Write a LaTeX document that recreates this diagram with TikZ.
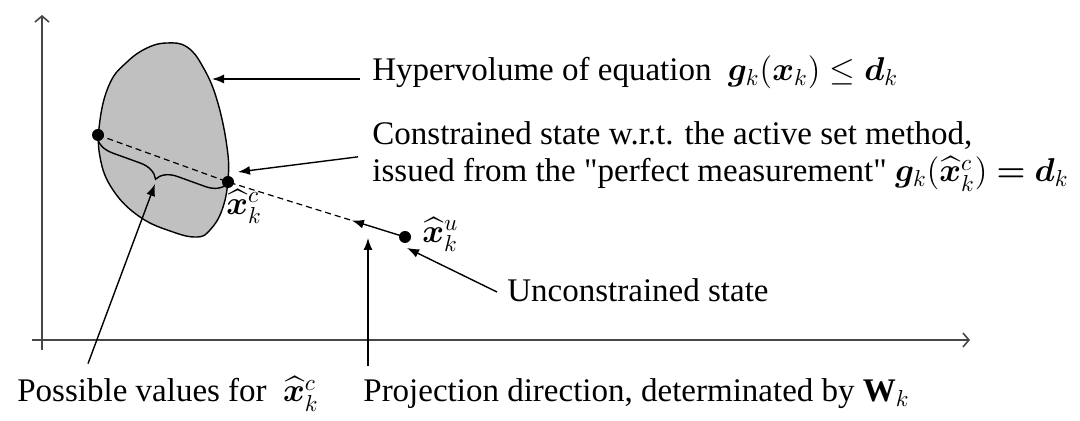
\RequirePackage{fix-cm}
\documentclass[tikz,border=0pt]{standalone}
\usepackage{amsmath,bm}
\usepackage{fontspec}
\setmainfont{Liberation Serif}
\definecolor{blobgray}{RGB}{192,192,192}
\definecolor{axisgray}{RGB}{70,70,70}
\usetikzlibrary{arrows.meta,decorations.pathreplacing,calc}

\begin{document}
\begin{tikzpicture}[x=0.5pt, y=-0.5pt,
  lbl/.style={
    inner sep=0pt, anchor=base west,
    font=\fontsize{16.5}{18.5}\selectfont
  },
  pointer/.style={-{Latex[length=6pt,width=4.5pt]}, line width=0.7pt},
  axis/.style={-{Straight Barb[length=3pt,width=7pt]}, line width=0.8pt, draw=axisgray}
]
\useasboundingbox (0,0) rectangle (1080,421);

\draw[axis] (32,340) -- (970,340);
\draw[axis] (42,350) -- (42,15);

\draw[fill=blobgray, line width=0.7pt] plot[smooth cycle, tension=0.7] coordinates {
  (167,43) (187,47) (203,67) (217,100) (227,147) (228,180) (222,210)
  (210,230) (197,237) (173,232) (140,217) (113,190) (100,157) (100,120)
  (110,83) (127,62) (147,48)};

\coordinate (xl) at (98,135);
\coordinate (xc) at (228,182);
\coordinate (xu) at (405,237);
\coordinate (pd) at ($(xc)!0.7!(xu)$);
\coordinate (hvtip) at (212,79);
\coordinate (cstip) at (238,172);
\coordinate (btip) at (155,184);
\coordinate (ptip) at (368,238);

\draw[dash pattern=on 3pt off 2pt, line width=0.6pt] (xl) -- (xc) -- (pd);
\draw[pointer] (xu) -- (pd);
\draw[decorate, decoration={brace, mirror, amplitude=10pt, raise=1pt}, line width=0.7pt] (xl) -- (xc);

\node[lbl] (hyper) at (372,81) {Hypervolume of equation~ $\bm{g}_k(\bm{x}_k) \leq \bm{d}_k$};
\node[lbl, align=left] (constr) at (372,182)
  {Constrained state w.r.t. the active set method,\\
   issued from the \textquotedbl perfect measurement\textquotedbl\ $\bm{g}_k(\widehat{\bm{x}}_k^c) \bm{=} \bm{d}_k$};
\node[lbl, anchor=north west] (xclbl) at (226,189) {$\widehat{\bm{x}}_k^c$};
\node[lbl, anchor=north west] (xulbl) at (422,217) {$\widehat{\bm{x}}_k^u$};
\node[lbl] (uncon) at (507,302) {Unconstrained state};
\node[lbl] (poss) at (17,402) {Possible values for~ $\widehat{\bm{x}}_k^c$};
\node[lbl] (proj) at (363,402) {Projection direction, determinated by $\mathbf{W}_k$};

\draw[pointer] ([xshift=-6pt,yshift=1pt]hyper.base west) -- (hvtip);
\draw[pointer] ([xshift=-7pt]constr.west) -- (cstip);
\draw[pointer] ([xshift=-5pt,yshift=5pt]uncon.base west) -- ([shift={(2,11)}]xu);
\draw[pointer] ([shift={(5,-13)}]proj.north west) -- (ptip);
\draw[pointer] ([shift={(71,-13)}]poss.north west) -- (btip);

\fill (xl) circle (3pt);
\fill (xc) circle (3pt);
\fill (xu) circle (3pt);
\end{tikzpicture}
\end{document}
